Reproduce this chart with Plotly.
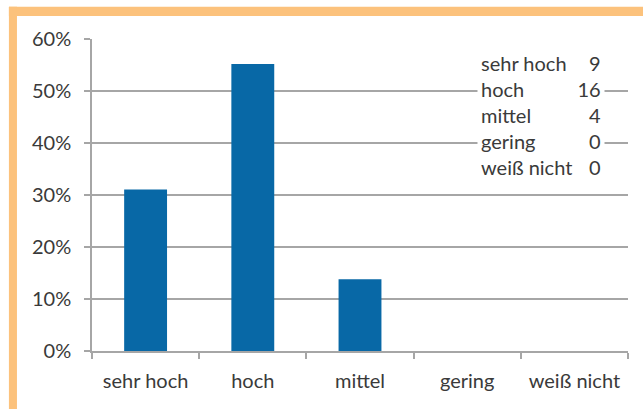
import plotly.graph_objects as go

categories = ["sehr hoch", "hoch", "mittel", "gering", "weiß nicht"]
counts = [9, 16, 4, 0, 0]

total = sum(counts)
shares = [c / total for c in counts]

font_family = "Lato, 'Open Sans', sans-serif"
grid_color = "#a6a6a6"
text_color = "#3a3a3a"

fig = go.Figure(
    go.Bar(
        x=categories,
        y=shares,
        width=0.4,
        marker=dict(color="#0868a6", line=dict(width=0)),
        hoverinfo="x+y",
    )
)

# legend-like count table in the upper right
labels_txt = "<br>".join(categories)
counts_txt = "<br>".join(str(c) for c in counts)
for txt, align, bg in [(labels_txt, "left", "white"), (counts_txt, "right", "rgba(0,0,0,0)")]:
    fig.add_annotation(
        x=0.958, y=0.756, xref="paper", yref="paper",
        xanchor="right", yanchor="middle",
        text=txt, showarrow=False, align=align, width=120,
        bgcolor=bg, borderpad=3,
        font=dict(family=font_family, size=20, color=text_color),
    )

# orange frame (top and left edge)
fig.add_shape(type="rect", xref="paper", yref="paper", x0=-0.155, x1=1.05, y0=1.074, y1=1.103,
              fillcolor="#fcc27c", line_width=0, layer="below")
fig.add_shape(type="rect", xref="paper", yref="paper", x0=-0.155, x1=-0.14, y0=-0.2, y1=1.103,
              fillcolor="#fcc27c", line_width=0, layer="below")

fig.update_layout(
    width=643, height=409,
    margin=dict(l=92, r=15, t=39, b=58),
    paper_bgcolor="white", plot_bgcolor="white",
    showlegend=False, bargap=0.6,
    font=dict(family=font_family, size=20, color=text_color),
)
fig.update_yaxes(
    range=[0, 0.6], dtick=0.1, tickformat=".0%",
    showgrid=True, gridcolor=grid_color, gridwidth=1.5,
    showline=True, linecolor=grid_color, linewidth=1.5,
    ticks="outside", ticklen=6, tickcolor=grid_color, tickwidth=1.5,
    ticklabelstandoff=9, zeroline=False,
)
fig.update_xaxes(
    showgrid=False, showline=True, linecolor=grid_color, linewidth=1.5,
    ticks="outside", tickson="boundaries", ticklen=6, tickcolor=grid_color, tickwidth=1.5,
    ticklabelstandoff=11,
)

fig.write_html(
    "out.html",
    config={"displayModeBar": False},
    post_script="document.body.style.margin='0';document.body.style.overflow='hidden';",
)
